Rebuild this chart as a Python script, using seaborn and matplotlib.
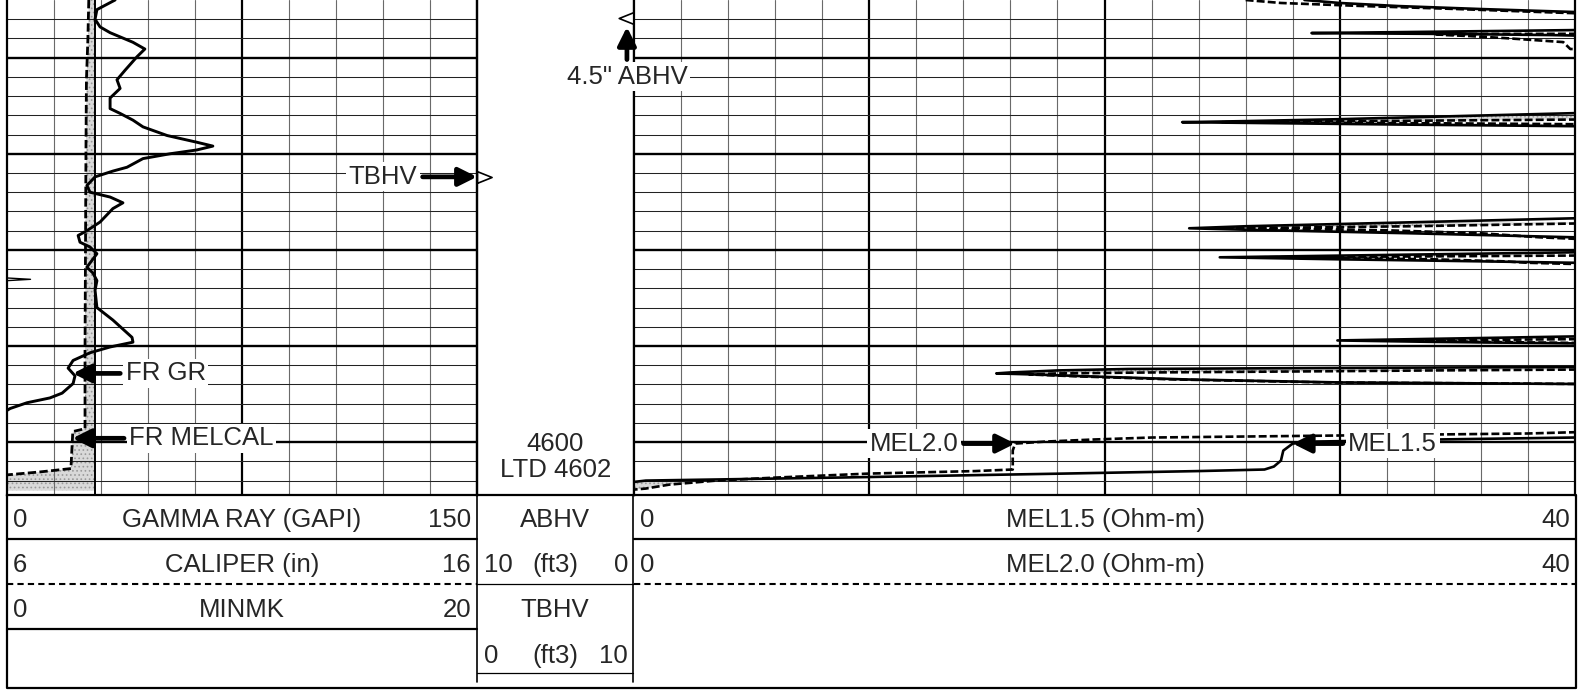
import numpy as np
import matplotlib
matplotlib.use("Agg")
import matplotlib.pyplot as plt
import seaborn as sns

# depth window (ft)
TOP, BASE = 4554.0, 4605.5

# Track 1 - gamma ray (GAPI)
gr_depth = [4554.0, 4555.0, 4556.0, 4556.8, 4557.4, 4558.4, 4559.1, 4559.9, 4561.3, 4562.3,
            4563.2, 4564.2, 4565.3, 4565.8, 4566.5, 4567.2, 4568.1, 4568.8, 4569.2, 4569.6,
            4570.0, 4570.5, 4571.4, 4571.8, 4572.4, 4573.3, 4574.0, 4574.5, 4575.1, 4575.7,
            4577.1, 4578.0, 4578.5, 4579.2, 4579.7, 4580.4, 4581.1, 4581.8, 4582.4, 4583.2,
            4584.2, 4586.0, 4587.3, 4589.1, 4589.6, 4590.1, 4590.7, 4591.5, 4592.3, 4593.1,
            4593.9, 4594.9, 4595.4, 4595.9, 4596.5, 4596.9]
gr = [34.5, 28.7, 28.1, 29.7, 32.9, 40.2, 44.0, 41.5, 37.7, 35.1,
      36.1, 32.9, 32.9, 36.1, 40.2, 43.4, 51.1, 60.6, 65.7, 60.6,
      52.0, 43.4, 38.3, 33.8, 28.1, 25.5, 26.5, 32.9, 37.0, 33.8,
      29.7, 25.5, 22.7, 23.3, 26.5, 28.7, 27.1, 25.5, 27.4, 28.7,
      28.1, 28.7, 33.8, 39.9, 40.2, 32.9, 26.5, 21.1, 19.5, 21.7,
      21.1, 17.6, 13.7, 6.4, 1.0, -1.0]

# caliper (in) and bit size
cal_depth = [4554.0, 4558.2, 4562.3, 4569.6, 4580.0, 4590.5, 4598.6, 4598.9, 4602.75, 4603.1, 4603.45, 4605.05]
cal = [7.74, 7.72, 7.69, 7.68, 7.67, 7.66, 7.66, 7.40, 7.36, 6.7, 5.9, 5.9]
bit_depth = [4554.0, 4605.5]
bit = [7.875, 7.875]

# MINMK
minmk_depth = [4582.92, 4583.06, 4583.20]
minmk = [0.0, 1.0, 0.0]

# Tracks 2-3 - MEL1.5 / MEL2.0 (Ohm-m), values above 40 are off scale
mel_depth = [4554.00, 4554.31, 4554.63, 4554.94, 4555.25, 4555.46, 4555.67,
             4556.92, 4557.13, 4557.33, 4557.44, 4557.54, 4557.65, 4557.75, 4557.96, 4558.38, 4559.10, 4559.31,
             4565.56, 4565.77, 4566.08, 4566.40, 4566.60, 4566.71, 4566.81, 4566.97, 4567.13, 4567.33,
             4576.40, 4576.71, 4577.13, 4577.54, 4577.75, 4577.96, 4578.27, 4578.69, 4578.90, 4579.10,
             4579.94, 4580.25, 4580.56, 4580.77, 4580.98, 4581.19, 4581.34, 4581.50, 4581.71,
             4588.69, 4589.00, 4589.21, 4589.42, 4589.57, 4589.73, 4589.94,
             4591.92, 4592.18, 4592.28, 4592.39, 4592.54, 4592.65, 4592.75, 4592.85, 4592.96,
             4593.17, 4593.48, 4593.79, 4593.95, 4594.10,
             4598.58, 4598.90, 4599.10, 4599.31, 4599.52, 4599.73, 4599.94, 4600.15, 4600.88,
             4601.92, 4602.54, 4602.85, 4603.01, 4603.27, 4603.69, 4604.00, 4604.42, 4604.83, 4605.15]
mel15 = [28.5, 30.0, 32.5, 36.0, 40.0, 60, 60,
         60, 40, 33, 28.8, 35, 39, 41, 60, 60, 60, 60,
         60, 40, 35, 30, 26, 23.3, 27, 33, 40, 60,
         60, 40, 33, 26, 23.6, 27, 33, 40, 60, 60,
         60, 40, 31, 24.9, 30, 36, 40, 60, 60,
         60, 40, 35, 29.9, 34, 40, 60,
         60, 40, 30, 21, 18, 17, 16, 15.4, 17,
         19.5, 23.5, 30, 40, 60,
         60, 60, 60, 45, 40, 34, 29, 28.0, 27.6,
         27.5, 27.2, 26.8, 24, 18.3, 8.6, 0.5, -1, -1, -1]
mel20 = [26.0, 27.5, 31.0, 35.0, 38.5, 41, 60,
         60, 60, 60, 60, 34, 34.5, 35.5, 37, 39.5, 39.8, 60,
         60, 60, 44, 42, 31, 25, 33, 43, 60, 60,
         60, 60, 43, 33, 25.3, 32, 36, 38.5, 40.5, 60,
         60, 60, 42, 26.6, 34, 37, 38, 40.5, 60,
         60, 60, 44, 32.9, 36, 42, 60,
         60, 60, 45, 44, 34, 28, 22, 18, 16.8,
         19, 23, 29.5, 40.5, 60,
         60, 41, 38, 30, 22, 19.5, 17.5, 16.2, 16.1,
         16.1, 16.1, 16.1, 14.5, 10, 6, 3.5, 1.5, 0.5, -1]

# borehole volume integration ticks
tbhv_depth = [4572.4]
abhv_depth = [4555.9]

# header texts (left value, name, right value)
track1_header = [("0", "GAMMA RAY (GAPI)", "150"), ("6", "CALIPER (in)", "16"), ("0", "MINMK", "20")]
depth_header = [("", "ABHV", ""), ("10", "(ft3)", "0"), ("", "TBHV", ""), ("0", "(ft3)", "10")]
res_header = [("0", "MEL1.5 (Ohm-m)", "40"), ("0", "MEL2.0 (Ohm-m)", "40")]
depth_labels = ["4600", "LTD 4602"]
depth_label_depth = [4600.15, 4602.9]

sns.set_style("white")
plt.rcParams["font.family"] = ["Liberation Sans", "DejaVu Sans"]
plt.rcParams["hatch.linewidth"] = 0.7
FS = 18.5
STIPPLE = dict(facecolor="#d9d9d9", edgecolor="#9a9a9a", hatch="....", lw=0, zorder=0.5)

W, H = 1587, 690
LOG_BOTTOM = 495
fig = plt.figure(figsize=(W / 100, H / 100), dpi=100)
fig.patch.set_facecolor("white")


def track(x0, x1):
    return fig.add_axes([x0 / W, 1 - LOG_BOTTOM / H, (x1 - x0) / W, LOG_BOTTOM / H])


def draw_grid(ax, lo, hi, ndiv, heavy_every):
    step = (hi - lo) / ndiv
    for i in range(1, ndiv):
        heavy = i % heavy_every == 0
        ax.axvline(lo + i * step, color="k" if heavy else "#6a6a6a", lw=1.6 if heavy else 0.8, zorder=1)
    for d in np.arange(TOP + 2, BASE, 2):
        heavy = d % 10 == 0
        ax.axhline(d, color="k" if heavy else "#222222", lw=1.7 if heavy else 0.75, zorder=1)


def frame(ax):
    ax.set_xticks([])
    ax.set_yticks([])
    ax.set_xlabel("")
    ax.set_ylabel("")
    ax.spines["top"].set_visible(False)
    for s in ("left", "right", "bottom"):
        ax.spines[s].set_visible(True)
        ax.spines[s].set_linewidth(1.6)
        ax.spines[s].set_color("k")


def curve(ax, x, y, **kw):
    sns.lineplot(x=x, y=y, orient="y", estimator=None, sort=False, color="k", ax=ax, **kw)


# ---- track 1
ax1 = track(7, 477)
ax_cal = ax1.twiny()
ax_mk = ax1.twiny()
ax_cal.set_zorder(0)
ax_mk.set_zorder(1)
ax1.set_zorder(2)
ax1.patch.set_visible(False)

draw_grid(ax_cal, 6, 16, 10, 5)
cal_arr = np.array(cal)
ax_cal.fill_betweenx(cal_depth, np.clip(cal_arr, 6, 16), bit[0], where=cal_arr < bit[0], **STIPPLE)
curve(ax_cal, bit, bit_depth, lw=1.4)
curve(ax_cal, cal, cal_depth, lw=2.0, linestyle=(0, (3, 1.2)))
ax_cal.set_xlim(6, 16)
ax_cal.axis("off")

curve(ax_mk, minmk, minmk_depth, lw=1.0)
ax_mk.set_xlim(0, 20)
ax_mk.axis("off")

curve(ax1, gr, gr_depth, lw=2.1)
ax1.set_xlim(0, 150)
ax1.set_ylim(BASE, TOP)
frame(ax1)

# ---- depth track
axd = track(477, 634)
axd.set_xlim(0, 1)
axd.set_ylim(BASE, TOP)
frame(axd)
tri_right = [(0, -0.4), (1, 0), (0, 0.4), (0, -0.4)]
tri_left = [(0, -0.4), (-1, 0), (0, 0.4), (0, -0.4)]
axd.plot([0] * len(tbhv_depth), tbhv_depth, ls="none", marker=tri_right, ms=21,
         mfc="white", mec="k", mew=1.2, clip_on=False, zorder=5)
axd.plot([1] * len(abhv_depth), abhv_depth, ls="none", marker=tri_left, ms=22,
         mfc="white", mec="k", mew=1.2, clip_on=False, zorder=5)
for lab, d in zip(depth_labels, depth_label_depth):
    axd.text(0.5, d, lab, ha="center", va="center", fontsize=FS)

# ---- tracks 2-3
ax2 = track(634, 1575)
draw_grid(ax2, 0, 40, 20, 5)
m15 = np.array(mel15, dtype=float)
m20 = np.array(mel20, dtype=float)
ax2.fill_betweenx(mel_depth, m15, m20, where=(m20 > m15) & (m20 < 50), interpolate=True, **STIPPLE)
curve(ax2, mel15, mel_depth, lw=1.9)
curve(ax2, mel20, mel_depth, lw=1.9, linestyle=(0, (3, 1.2)))
ax2.set_xlim(0, 40)
ax2.set_ylim(BASE, TOP)
frame(ax2)

# ---- overlay: header and flags
ov = fig.add_axes([0, 0, 1, 1])
ov.set_zorder(10)
ov.set_xlim(0, W)
ov.set_ylim(H, 0)
ov.axis("off")

for x0, x1 in [(7, 477), (634, 1576)]:
    ov.plot([x0, x1], [539, 539], color="k", lw=1.6)
    ov.plot([x0, x1], [584, 584], color="k", lw=1.5, ls=(0, (3, 2)))
ov.plot([7, 477], [629, 629], color="k", lw=1.6)
ov.plot([477, 633], [584, 584], color="k", lw=0.9)
ov.plot([477, 633], [673, 673], color="k", lw=0.9)
ov.plot([477, 477], [495, 682], color="k", lw=1.2)
ov.plot([633, 633], [495, 682], color="k", lw=1.2)
ov.plot([7, 7, 1576, 1576], [495, 688, 688, 495], color="k", lw=1.6)

rows_y = [520, 565, 610, 656]


def header(rows, xl, xc, xr):
    for (lv, name, rv), y in zip(rows, rows_y):
        ov.text(xl, y, lv, ha="left", va="center", fontsize=FS)
        ov.text(xc, y, name, ha="center", va="center", fontsize=FS)
        ov.text(xr, y, rv, ha="right", va="center", fontsize=FS)


header(track1_header, 13, 242, 471)
header(depth_header, 484, 555, 628)
header(res_header, 640, 1105, 1570)

arrow = dict(arrowstyle="-|>,head_length=1.1,head_width=0.55", lw=3.4, color="k",
             mutation_scale=10, shrinkA=2, shrinkB=0)
wbox = dict(boxstyle="square,pad=0.1", fc="white", ec="none")


def flag(text, xy, coords, dx, dy, ha):
    ov.annotate(text, xy=xy, xycoords=coords, xytext=(dx, dy), textcoords="offset points",
                ha=ha, va="center", fontsize=FS, bbox=wbox, arrowprops=arrow, annotation_clip=False)


d_gr, d_cal, d_mel = 4592.85, 4599.6, 4600.15
flag("FR GR", (np.interp(d_gr, gr_depth, gr), d_gr), ax1.transData, 38, 0, "left")
flag("FR MELCAL", (np.interp(d_cal, cal_depth, cal), d_cal), ax_cal.transData, 41, 0, "left")
flag("TBHV", (0, tbhv_depth[0]), axd.transData, -43, 0, "right")
flag('4.5" ABHV', (0.955, abhv_depth[0] + 0.9), axd.transData, 0, -36, "center")
flag("MEL2.0", (np.interp(d_mel, mel_depth, mel20), d_mel), ax2.transData, -41, 0, "right")
flag("MEL1.5", (np.interp(d_mel, mel_depth, mel15), d_mel), ax2.transData, 40, 0, "left")

fig.savefig("out.png", dpi=100, facecolor="white")
